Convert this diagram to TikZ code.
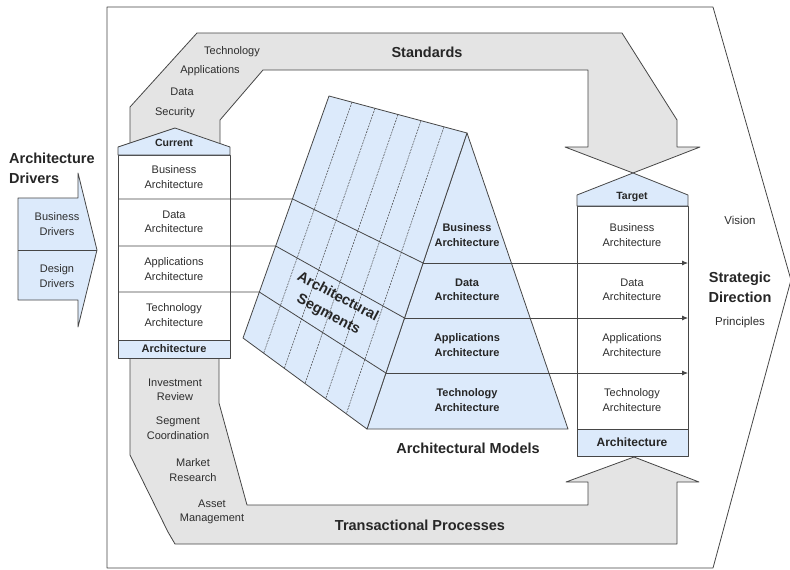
\documentclass[tikz,border=0pt]{standalone}
\usepackage{fontspec}
\setmainfont{Liberation Sans}
\usepackage{tikz}
\usetikzlibrary{positioning, arrows.meta, calc}

\definecolor{paleblue}{RGB}{220,234,251}
\definecolor{bandgray}{RGB}{228,228,228}
\definecolor{edgegray}{RGB}{70,70,70}
\definecolor{labelgray}{RGB}{45,45,45}

\begin{document}
\begin{tikzpicture}[
    x=1pt, y=-1pt,
    line join=round,
    outline/.style={draw=edgegray, line width=0.8pt},
    blueshape/.style={outline, fill=paleblue},
    grayband/.style={outline, fill=bandgray},
    whitebox/.style={outline, fill=white},
    smalllabel/.style={align=center, font=\fontsize{11}{14.5}\selectfont, text=labelgray, inner sep=0pt},
    boldlabel/.style={align=center, font=\fontsize{11}{14.5}\selectfont\bfseries, text=black!85, inner sep=0pt},
    biglabel/.style={align=center, font=\fontsize{14.5}{20}\selectfont\bfseries, text=black!85, inner sep=0pt},
    segline/.style={draw=edgegray, line width=0.5pt, dash pattern=on 2pt off 1pt},
    flow/.style={draw=edgegray, line width=0.8pt, -{Latex[length=6pt,width=5pt]}}
]

% Canvas
\useasboundingbox (0,0) rectangle (790,570);
\fill[white] (0,0) rectangle (790,570);

% Outer frame
\draw[outline] (107,7) -- (713,7) -- (791,280) -- (713,568) -- (107,568) -- cycle;

% Drivers arrow
\draw[blueshape] (18,198) -- (78,198) -- (78,173) -- (97,250) -- (78,327) -- (78,300) -- (18,300) -- cycle;
\draw[outline] (18,250) -- (97,250);
\node[biglabel, align=left, anchor=west] (drivers) at (9,168) {Architecture\\Drivers};
\node[smalllabel] (bizdrv) at (57,224) {Business\\Drivers};
\node[smalllabel] (desdrv) at (57,276) {Design\\Drivers};

% Standards band
\draw[grayband] (130,147) -- (130,107) -- (197,33) -- (622,33) -- (677,120) -- (677,147) -- (700,147)
    -- (633,173) -- (565,147) -- (588,147) -- (588,70) -- (263,70) -- (220,120) -- (220,147);
\node[biglabel] (standards) at (427,52) {Standards};
\node[smalllabel] (stdtech) at (232,52) {Technology};
\node[smalllabel] (stdapps) at (210,71) {Applications};
\node[smalllabel] (stddata) at (182,92) {Data};
\node[smalllabel] (stdsec) at (175,113) {Security};

% Transactional band
\draw[grayband] (219,358) -- (219,403) -- (247,505) -- (588,505) -- (588,482) -- (566,482) -- (634,457)
    -- (699,482) -- (677,482) -- (677,544) -- (175,544) -- (168,532) -- (130,455) -- (130,358);
\node[biglabel] (trans) at (420,525) {Transactional Processes};
\node[smalllabel] (invest) at (175,390) {Investment\\Review};
\node[smalllabel] (segcoord) at (178,428) {Segment\\Coordination};
\node[smalllabel] (market) at (193,470) {Market\\Research};
\node[smalllabel] (asset) at (212,512) {Asset\\Management};

% Current column
\draw[whitebox] (118,155) rectangle (230,340);
\draw[blueshape] (118,155) -- (118,147) -- (175,128) -- (230,147) -- (230,155) -- cycle;
\draw[blueshape] (118,340) rectangle (230,358);
\node[boldlabel, font=\fontsize{10.5}{12}\selectfont\bfseries] (current) at (174,143) {Current};
\node[smalllabel] (cbiz) at (174,177) {Business\\Architecture};
\node[smalllabel] (cdata) at (174,222) {Data\\Architecture};
\node[smalllabel] (capps) at (174,269) {Applications\\Architecture};
\node[smalllabel] (ctech) at (174,315) {Technology\\Architecture};
\node[boldlabel] (carch) at (174,349) {Architecture};

% Target column
\draw[whitebox] (577,206) rectangle (688,429);
\draw[blueshape] (577,206) -- (577,195) -- (633,173) -- (688,195) -- (688,206) -- cycle;
\draw[blueshape] (577,429) rectangle (688,456);
\node[boldlabel, font=\fontsize{10.5}{12}\selectfont\bfseries] (target) at (632,197) {Target};
\node[smalllabel] (tbiz) at (632,235) {Business\\Architecture};
\node[smalllabel] (tdata) at (632,290) {Data\\Architecture};
\node[smalllabel] (tapps) at (632,345) {Applications\\Architecture};
\node[smalllabel] (ttech) at (632,400) {Technology\\Architecture};
\node[boldlabel, font=\fontsize{12}{14}\selectfont\bfseries] (tarch) at (632,442) {Architecture};

% Prism corners
\coordinate (ptop) at (329,96);
\coordinate (pridge) at (467,133);
\coordinate (pfoot) at (367,429);
\coordinate (pback) at (243,338);
\coordinate (pright) at (568,429);

% Prism faces
\draw[blueshape] (pridge) -- (pright) -- (pfoot) -- cycle;
\draw[blueshape] (ptop) -- (pridge) -- (pfoot) -- (pback) -- cycle;
\foreach \k in {1,...,5}
    \draw[segline] ($(ptop)!\k/6!(pridge)$) -- ($(pback)!\k/6!(pfoot)$);

% Row cuts
\coordinate (c1) at (118,199);
\coordinate (c2) at (118,246);
\coordinate (c3) at (118,292);
\coordinate (l1) at (292.7,199);
\coordinate (l2) at (275.7,246);
\coordinate (l3) at (259.3,292);
\coordinate (f1) at (423.1,263);
\coordinate (f2) at (404.5,318);
\coordinate (f3) at (385.9,373);
\coordinate (t1) at (688,263);
\coordinate (t2) at (688,318);
\coordinate (t3) at (688,373);

\draw[outline] (c1) -- (l1) -- (f1);
\draw[outline] (c2) -- (l2) -- (f2);
\draw[outline] (c3) -- (l3) -- (f3);
\draw[flow] (f1) -- (t1);
\draw[flow] (f2) -- (t2);
\draw[flow] (f3) -- (t3);

% Prism labels
\node[biglabel, rotate=-28] (segs) at (333,306) {Architectural\\Segments};
\node[boldlabel] (mbiz) at (467,235) {Business\\Architecture};
\node[boldlabel] (mdata) at (467,290) {Data\\Architecture};
\node[boldlabel] (mapps) at (467,345) {Applications\\Architecture};
\node[boldlabel] (mtech) at (467,400) {Technology\\Architecture};
\node[biglabel] (models) at (468,448) {Architectural Models};

% Strategic direction
\node[biglabel] (strat) at (740,287) {Strategic\\Direction};
\node[smalllabel, font=\fontsize{11.5}{14}\selectfont] (vision) at (740,220) {Vision};
\node[smalllabel, font=\fontsize{11.5}{14}\selectfont] (princ) at (740,323) {Principles};

\end{tikzpicture}
\end{document}
